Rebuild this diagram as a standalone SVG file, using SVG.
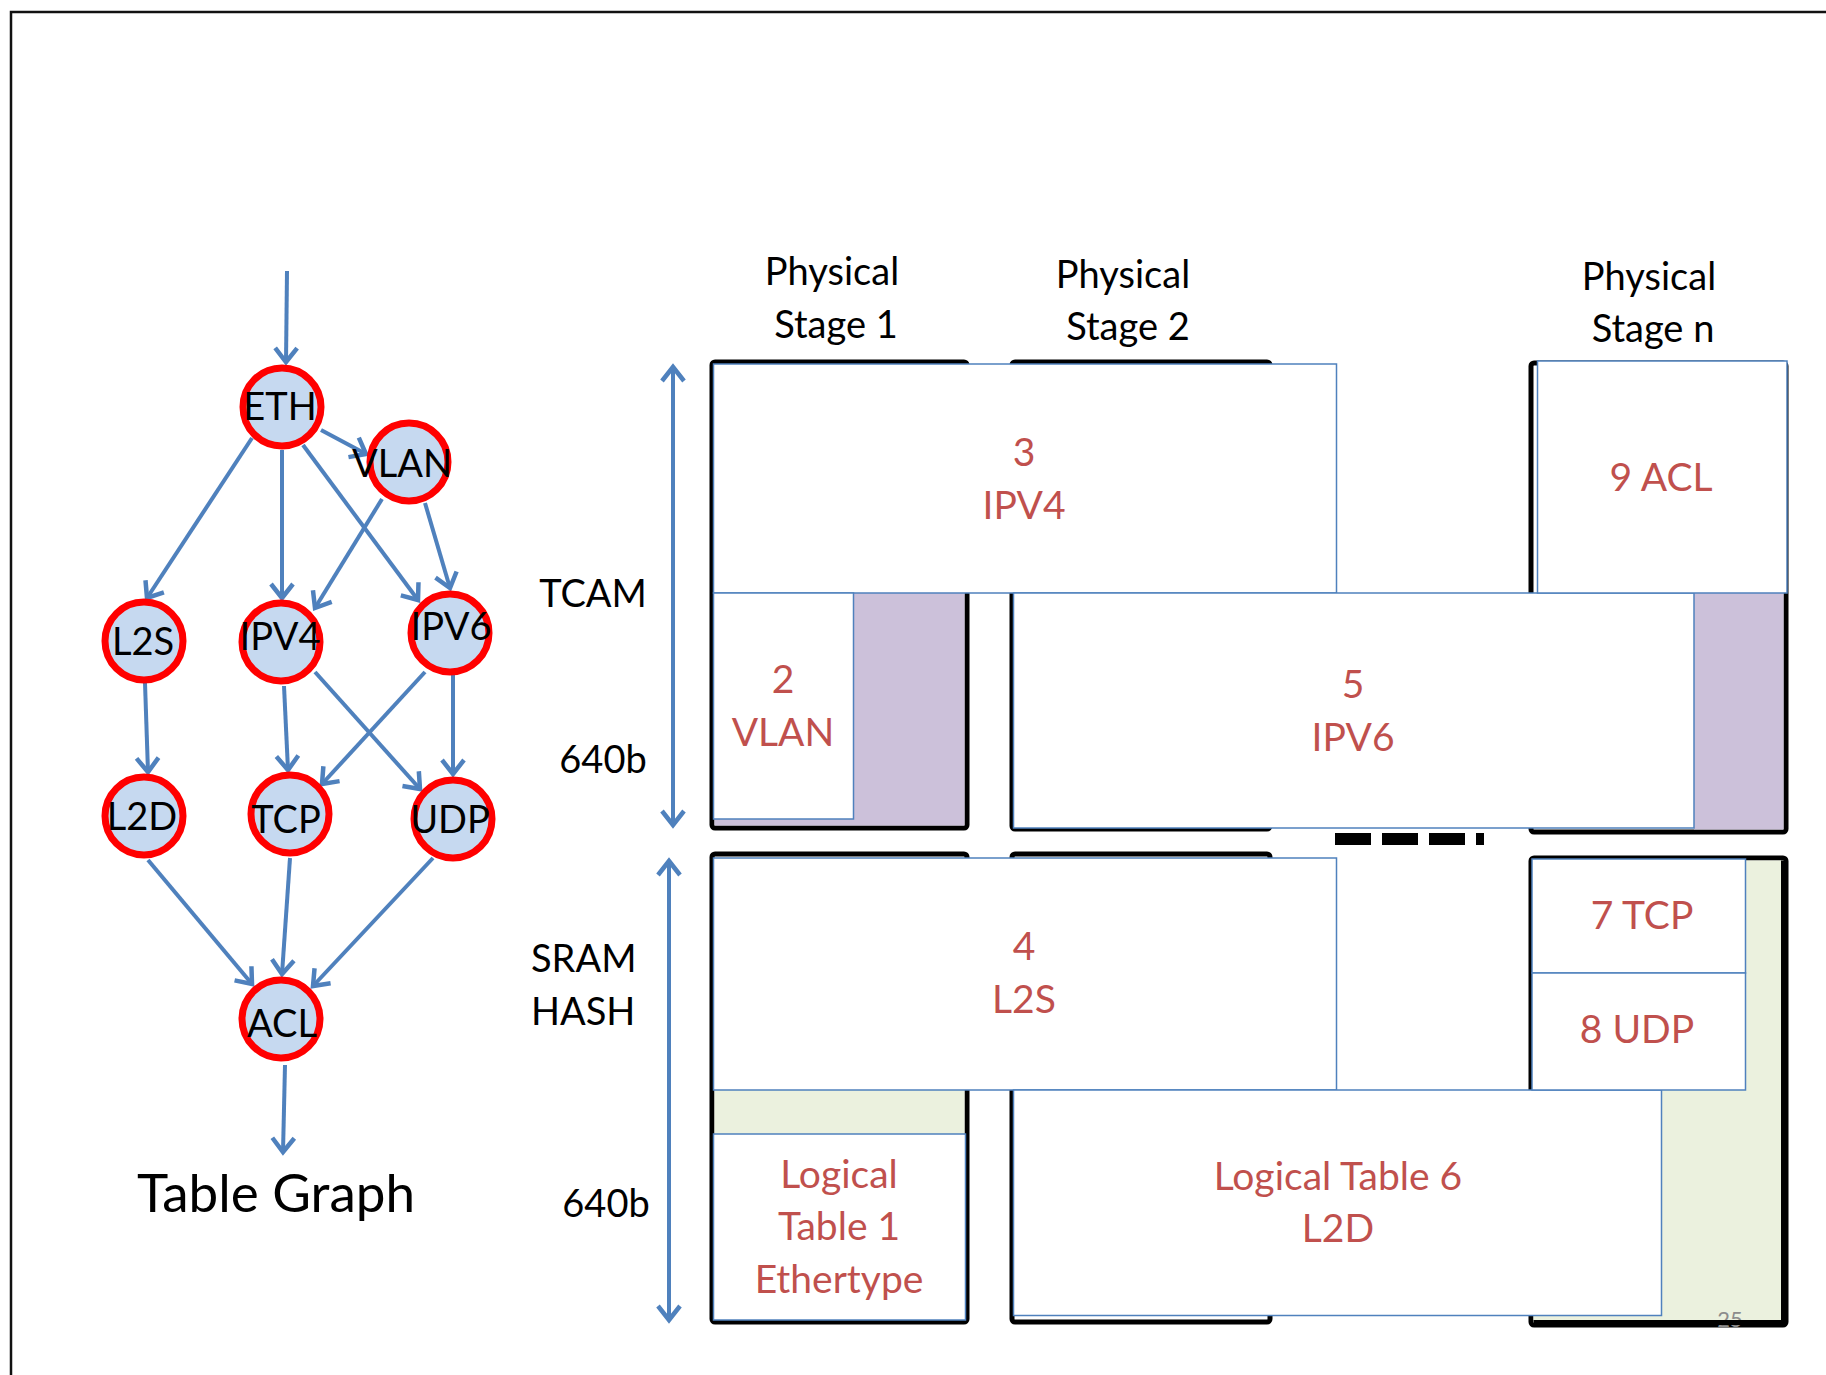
<svg xmlns="http://www.w3.org/2000/svg" width="1826" height="1375" viewBox="0 0 1826 1375">
<defs>
<style>
text{font-family:Lato,"Open Sans","Liberation Sans",sans-serif}
.lbl{font-size:38px;fill:#000;text-anchor:middle}
.hdr{font-size:38px;fill:#000;text-anchor:middle}
.red{font-size:39px;fill:#C0504D;text-anchor:middle}
.node circle{fill:#C6D9F0;stroke:#FF0000;stroke-width:7}
.edge{stroke:#4F81BD;stroke-width:4;fill:none;marker-end:url(#ah)}
.dbl{stroke:#4F81BD;stroke-width:4;fill:none;marker-end:url(#ah);marker-start:url(#ah)}
.stage{fill:#fff;stroke:#000;stroke-width:5}
.ltab{fill:#fff;stroke:#4F81BD;stroke-width:1.5}
</style>
<marker id="ah" markerUnits="userSpaceOnUse" viewBox="-18 -14 22 28" markerWidth="22" markerHeight="28" refX="0" refY="0" orient="auto-start-reverse">
<path d="M-14,-11 L0,0 L-14,11" fill="none" stroke="#4F81BD" stroke-width="4.5" stroke-linejoin="miter"/>
</marker>
</defs>
<rect x="0" y="0" width="1826" height="1375" fill="#fff"/>
<path d="M11,1375 V12 H1826" fill="none" stroke="#111" stroke-width="2.5"/>

<g id="connectors">
<path class="edge" d="M287,271 L286,362"/>
<path class="edge" d="M321,430 L366,454"/>
<path class="edge" d="M252,438 L147,598"/>
<path class="edge" d="M282,450 L282,598"/>
<path class="edge" d="M303,445 L418,600"/>
<path class="edge" d="M382,499 L315,608"/>
<path class="edge" d="M425,503 L450,588"/>
<path class="edge" d="M145,683 L148,772"/>
<path class="edge" d="M284,686 L288,770"/>
<path class="edge" d="M315,672 L420,789"/>
<path class="edge" d="M425,672 L322,784"/>
<path class="edge" d="M453,670 L453,774"/>
<path class="edge" d="M148,860 L252,984"/>
<path class="edge" d="M290,858 L282,974"/>
<path class="edge" d="M433,858 L313,986"/>
<path class="edge" d="M285,1065 L283,1152"/>
<path class="dbl" d="M673,367 L673,825"/>
<path class="dbl" d="M669,861 L669,1320"/>
</g>

<g id="n-eth" class="node"><circle cx="282" cy="407" r="39"/><text class="lbl" x="280" y="420">ETH</text></g>
<g id="n-vlan" class="node"><circle cx="409" cy="462" r="39"/><text class="lbl" x="402" y="477">VLAN</text></g>
<g id="n-l2s" class="node"><circle cx="144" cy="641" r="39"/><text class="lbl" x="143" y="655">L2S</text></g>
<g id="n-ipv4" class="node"><circle cx="281" cy="642" r="39"/><text class="lbl" x="280" y="650">IPV4</text></g>
<g id="n-ipv6" class="node"><circle cx="450" cy="633" r="39"/><text class="lbl" x="451" y="640">IPV6</text></g>
<g id="n-l2d" class="node"><circle cx="144" cy="816" r="39"/><text class="lbl" x="142" y="830">L2D</text></g>
<g id="n-tcp" class="node"><circle cx="290" cy="814" r="39"/><text class="lbl" x="286" y="833">TCP</text></g>
<g id="n-udp" class="node"><circle cx="453" cy="819" r="39"/><text class="lbl" x="450" y="833">UDP</text></g>
<g id="n-acl" class="node"><circle cx="281" cy="1019" r="39"/><text class="lbl" x="282" y="1037">ACL</text></g>
<text x="276" y="1212" style="font-size:53px;text-anchor:middle">Table Graph</text>

<g id="headers">
<text class="hdr" x="832" y="285">Physical</text><text class="hdr" x="836" y="338">Stage 1</text>
<text class="hdr" x="1123" y="288">Physical</text><text class="hdr" x="1128" y="340">Stage 2</text>
<text class="hdr" x="1649" y="290">Physical</text><text class="hdr" x="1653" y="342">Stage n</text>
</g>

<g id="side-labels">
<text class="lbl" x="593" y="607">TCAM</text>
<text class="lbl" x="603" y="773">640b</text>
<text style="font-size:38px" x="531" y="972">SRAM</text>
<text style="font-size:38px" x="531" y="1025">HASH</text>
<text class="lbl" x="606" y="1217">640b</text>
</g>

<g id="stages">
<rect class="stage" x="712" y="362" width="255" height="466" rx="3"/>
<rect class="stage" x="1012" y="362" width="258" height="467" rx="3"/>
<rect class="stage" x="1531" y="363" width="255" height="469" rx="3"/>
<rect class="stage" x="712" y="854" width="255" height="468" rx="3"/>
<rect class="stage" x="1012" y="854" width="258" height="468" rx="3"/>
<rect class="stage" x="1531" y="858" width="255" height="467" rx="3"/>
<rect x="714.5" y="593" width="250" height="232.5" fill="#CCC1DA"/>
<rect x="1694" y="593" width="89.5" height="236.5" fill="#CCC1DA"/>
<rect x="714.5" y="1090" width="250" height="44" fill="#EBF1DE"/>
<rect x="1533.5" y="860.5" width="250" height="462" fill="#EBF1DE"/>
<text x="1730" y="1327" style="font-size:22px;fill:#8C8C8C;text-anchor:middle">25</text>
<path d="M1783.5,860.5 V1322.5 H1533.5" fill="none" stroke="#000" stroke-width="5"/>
<path d="M1335,839 H1484" stroke="#000" stroke-width="12" stroke-dasharray="36 11"/>
</g>

<g id="t3"><rect class="ltab" x="713.5" y="364" width="623" height="229"/><text class="red" x="1024" y="466">3</text><text class="red" x="1024" y="519">IPV4</text></g>
<g id="t2"><rect class="ltab" x="713.5" y="593" width="140" height="226"/><text class="red" x="783" y="693">2</text><text class="red" x="783" y="746">VLAN</text></g>
<g id="t5"><rect class="ltab" x="1013.5" y="593" width="680.5" height="235"/><text class="red" x="1353" y="698">5</text><text class="red" x="1353" y="751">IPV6</text></g>
<g id="t9"><rect class="ltab" x="1537.5" y="361" width="249.5" height="232"/><text class="red" x="1661" y="491">9 ACL</text></g>
<g id="t4"><rect class="ltab" x="713.5" y="858" width="623" height="232"/><text class="red" x="1024" y="960">4</text><text class="red" x="1024" y="1013">L2S</text></g>
<g id="t1"><rect class="ltab" x="713.5" y="1134" width="252" height="186"/><text class="red" x="839" y="1188">Logical</text><text class="red" x="839" y="1240">Table 1</text><text class="red" x="839" y="1293">Ethertype</text></g>
<g id="t6"><rect class="ltab" x="1013.5" y="1090" width="648" height="225.5"/><text class="red" x="1338" y="1190">Logical Table 6</text><text class="red" x="1338" y="1242">L2D</text></g>
<g id="t7"><rect class="ltab" x="1532" y="859" width="213.5" height="114"/><text class="red" x="1642" y="929">7 TCP</text></g>
<g id="t8"><rect class="ltab" x="1532" y="973" width="213.5" height="117"/><text class="red" x="1637" y="1043">8 UDP</text></g>
</svg>
